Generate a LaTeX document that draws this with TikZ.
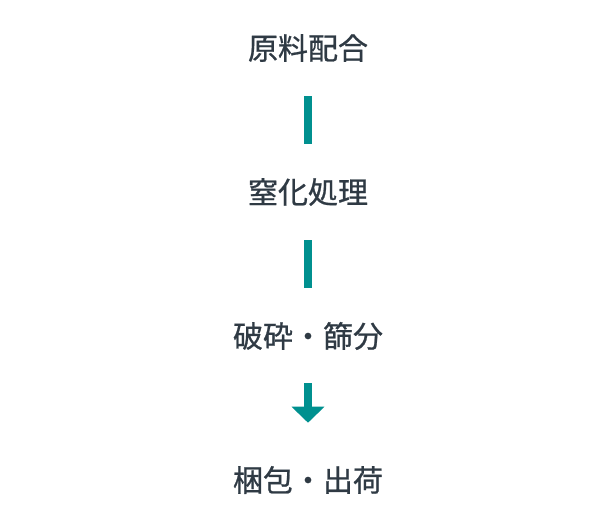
\documentclass[tikz,border=0pt]{standalone}
\usepackage{fontspec}
\setmainfont[UprightFeatures={FakeBold=0.8}]{Noto Sans CJK JP}
\usetikzlibrary{arrows.meta}
\definecolor{stepteal}{HTML}{00908F}
\definecolor{steptext}{HTML}{2F3A44}

\begin{document}
\begin{tikzpicture}[x=0.75pt, y=-0.75pt, text=steptext,
  font=\fontsize{22.5}{27}\selectfont,
  stage/.style={inner sep=0pt, text height=19.8pt, text depth=2.7pt},
  link/.style={draw=stepteal, line width=6pt, shorten <=24.75pt, shorten >=24.75pt},
  flow/.style={draw=stepteal, line width=6pt, shorten <=24pt, shorten >=31.5pt,
    -{Triangle[width=24pt, length=12pt]}}]
\useasboundingbox (0,0) rectangle (616,528);

\node[stage] (mix) at (308,48) {原料配合};
\node[stage] (nitr) at (308,192) {窒化処理};
\node[stage] (crush) at (308,336) {破砕・篩分};
\node[stage] (ship) at (308,480) {梱包・出荷};

\path (mix) edge[link] (nitr)
      (nitr) edge[link] (crush)
      (crush) edge[flow] (ship);
\end{tikzpicture}
\end{document}
